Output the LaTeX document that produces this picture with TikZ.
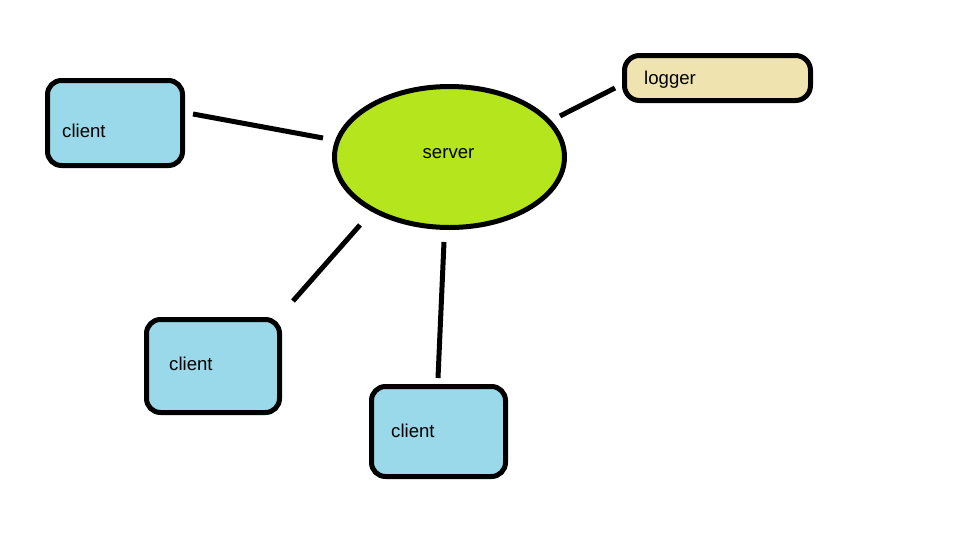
\documentclass[tikz,border=0pt]{standalone}
\usepackage{fontspec}
\setmainfont{Liberation Sans}
\usetikzlibrary{calc,shapes.geometric}
\definecolor{clientblue}{HTML}{99D9EA}
\definecolor{servergreen}{HTML}{B5E61D}
\definecolor{loggercream}{HTML}{EFE4B0}
\tikzset{
  outline/.style={draw=black, line width=5pt, outer sep=0pt, inner sep=0pt},
  clientbox/.style={outline, rectangle, rounded corners=14pt, fill=clientblue},
  serverblob/.style={outline, ellipse, fill=servergreen, minimum width=230pt, minimum height=141pt},
  loggerbox/.style={outline, rectangle, rounded corners=15pt, fill=loggercream, minimum width=186pt, minimum height=45pt},
  caption/.style={inner sep=0pt, font=\fontsize{18.6}{20}\selectfont, text=black},
  link/.style={draw=black, line width=5pt}
}
\begin{document}
\begin{tikzpicture}[x=1pt, y=-1pt]
  \useasboundingbox[fill=white] (0,0) rectangle (959,547);

  % shapes
  \node[serverblob] (srv) at (449.5,157) {};
  \node[loggerbox] (log) at (717.5,78) {};
  \node[clientbox, minimum width=135pt, minimum height=85pt] (c1) at (115,123) {};
  \node[clientbox, minimum width=133pt, minimum height=93pt] (c2) at (213,366) {};
  \node[clientbox, minimum width=134pt, minimum height=90pt] (c3) at (438.5,431.5) {};

  % captions
  \node[caption, anchor=base] (srv-t) at ($(srv.center)+(-1,1.3)$) {server};
  \node[caption, anchor=base west] (log-t) at ($(log.center)+(-73.5,6)$) {logger};
  \node[caption, anchor=base west] (c1-t) at ($(c1.center)+(-53,14.3)$) {client};
  \node[caption, anchor=base west] (c2-t) at ($(c2.center)+(-44,4)$) {client};
  \node[caption, anchor=base west] (c3-t) at ($(c3.center)+(-47.5,5.8)$) {client};

  % connectors, each stopping short of its shapes
  \draw[link] ($(c1.east)+(10.5,-9)$) -- ($(srv.west)+(-11.5,-19)$);
  \draw[link] ($(srv.east)+(-4.5,-41)$) -- ($(log.west)+(-9.5,10)$);
  \draw[link] ($(srv.south)+(-89.5,-2.5)$) -- ($(c2.north east)+(13.5,-18.5)$);
  \draw[link] ($(srv.south)+(-5.5,14.5)$) -- ($(c3.north)+(-0.5,-8.5)$);
\end{tikzpicture}
\end{document}
